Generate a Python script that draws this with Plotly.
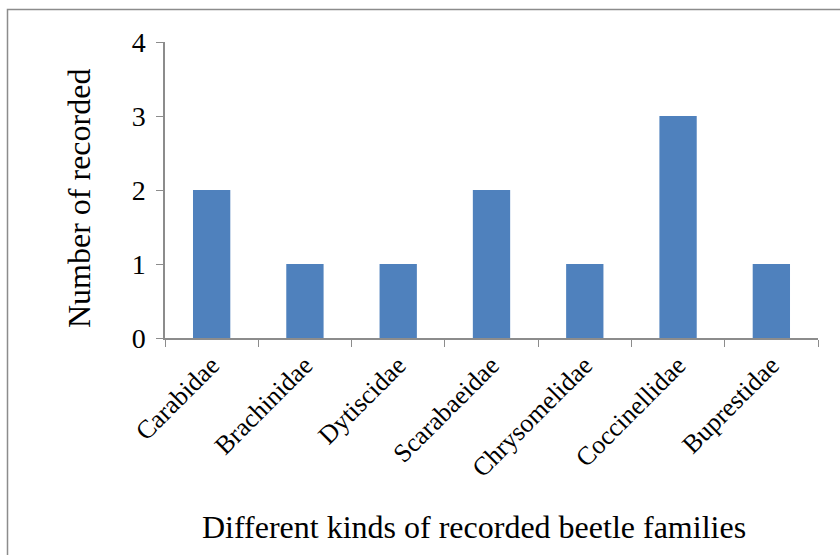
import plotly.graph_objects as go

families = ["Carabidae", "Brachinidae", "Dytiscidae", "Scarabaeidae",
            "Chrysomelidae", "Coccinellidae", "Buprestidae"]
counts = [2, 1, 1, 2, 1, 3, 1]
y_ticks = [0, 1, 2, 3, 4]

font = "Liberation Serif, Times New Roman, serif"

fig = go.Figure(go.Bar(x=families, y=counts, marker_color="#4F81BD",
                       marker_line_width=0, width=0.4))

L, R, T, B = 165, 22, 42, 217
W, H = 840, 555
pw, ph = W - L - R, H - T - B

def px_to_paper_x(px):
    return (px - L) / pw

def px_to_paper_y(py):
    return (H - B - py) / ph

fig.update_layout(
    width=W, height=H,
    margin=dict(l=L, r=R, t=T, b=B),
    paper_bgcolor="white", plot_bgcolor="white",
    showlegend=False,
    font=dict(family=font, color="black"),
)
fig.update_xaxes(
    showline=True, linecolor="#8c8c8c", linewidth=1.5,
    ticks="outside", tickson="boundaries", ticklen=7, tickcolor="#8c8c8c",
    tickangle=-45, tickfont=dict(size=26, family=font),
    showgrid=False, zeroline=False,
)
fig.update_yaxes(
    range=[0, 4], tickvals=y_ticks,
    showline=True, linecolor="#8c8c8c", linewidth=1.5,
    ticks="outside", ticklen=7, tickcolor="#8c8c8c",
    tickfont=dict(size=28, family=font), ticklabelstandoff=5,
    showgrid=False, zeroline=False,
)

fig.add_annotation(text="Number of recorded",
                   xref="paper", yref="paper",
                   x=px_to_paper_x(79), y=px_to_paper_y(199),
                   xanchor="center", yanchor="middle", showarrow=False,
                   textangle=-90,
                   font=dict(size=32, family=font, color="black"))

fig.add_annotation(text="Different kinds of recorded beetle families",
                   xref="paper", yref="paper",
                   x=px_to_paper_x(474), y=px_to_paper_y(527),
                   xanchor="center", yanchor="middle", showarrow=False,
                   font=dict(size=32, family=font, color="black"))

fig.add_shape(type="rect", xref="paper", yref="paper",
              x0=px_to_paper_x(7.5), x1=px_to_paper_x(860),
              y0=px_to_paper_y(600), y1=px_to_paper_y(9.5),
              line=dict(color="#8c8c8c", width=1.5), fillcolor="rgba(0,0,0,0)",
              layer="below")

fig.write_html("out.html", config={"displayModeBar": False},
               post_script="document.body.style.margin='0';")
